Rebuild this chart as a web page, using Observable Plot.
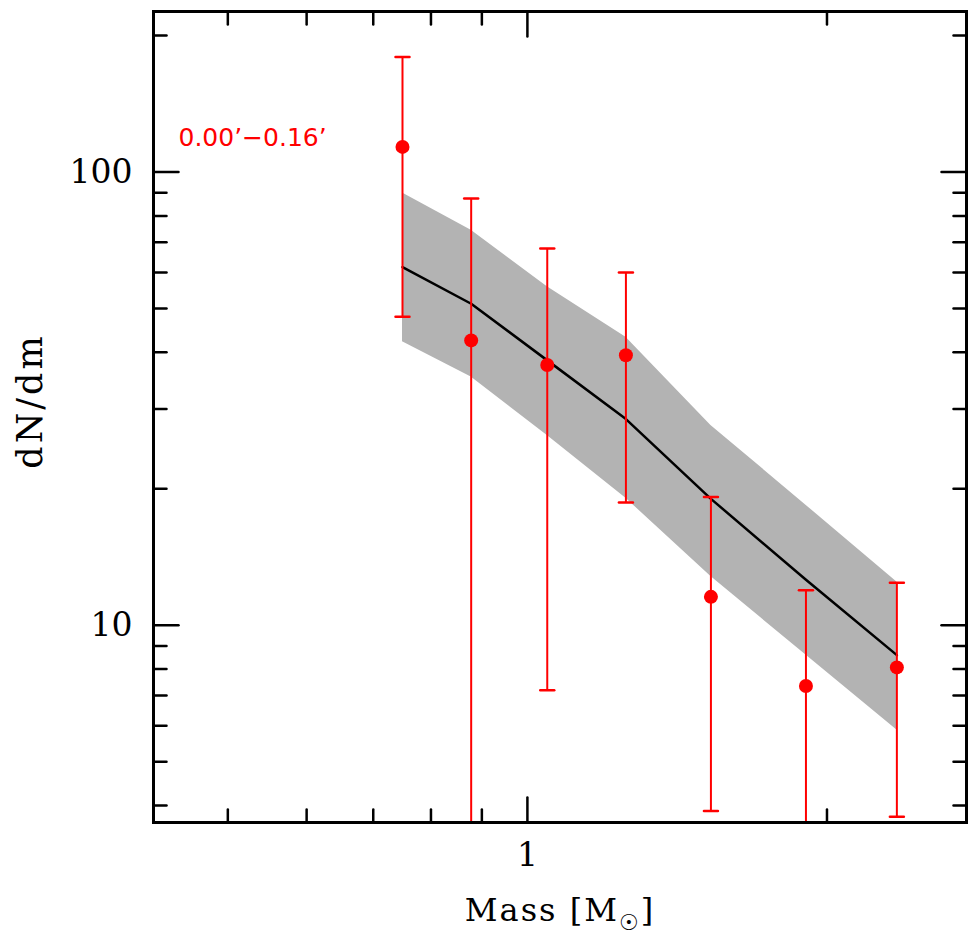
<!DOCTYPE html>
<html>
<head>
<meta charset="utf-8">
<script src="https://cdn.jsdelivr.net/npm/d3@7"></script>
<script src="https://cdn.jsdelivr.net/npm/@observablehq/plot@0.6"></script>
<style>
  body { margin: 0; background: #fff; }
</style>
</head>
<body>
<div id="chart"></div>
<script>
// Observed mass function (red points with error bars)
const mass   = [0.749, 0.878, 1.047, 1.256, 1.529, 1.905, 2.351];
const dndm   = [113.6, 42.5, 37.5, 39.4, 11.55, 7.34, 8.07];
const errHi  = [179.4, 87.4, 67.8, 60.0, 19.19, 11.95, 12.4];
const errLo  = [47.9, 1.0, 7.19, 18.65, 3.89, 1.0, 3.78];

// Model (black line) and its uncertainty band (grey)
const modelMid = [61.7, 51.2, 38.4, 28.5, 19.0, 12.6, 8.59];
const modelHi  = [89.9, 74.4, 55.8, 43.2, 27.6, 18.4, 12.46];
const modelLo  = [42.2, 35.3, 26.2, 19.06, 12.8, 8.59, 5.87];

// Axis ticks
const xMajor = [1];
const xMinor = [0.5, 0.6, 0.7, 0.8, 0.9, 2];
const yMajor = [10, 100];
const yMinor = [4, 5, 6, 7, 8, 9, 20, 30, 40, 50, 60, 70, 80, 90, 200];

const xDomain = [0.421, 2.762];
const yDomain = [3.67, 226];

const regionLabel = "0.00\u2019\u22120.16\u2019";

const obs = mass.map((m, i) => ({m, v: dndm[i], hi: errHi[i], lo: errLo[i]}));
const model = mass.map((m, i) => ({m, mid: modelMid[i], hi: modelHi[i], lo: modelLo[i]}));
const caps = obs.flatMap(d => [{m: d.m, v: d.hi}, {m: d.m, v: d.lo}]);

const line = {draw(ctx, l) { ctx.moveTo(0, 0); ctx.lineTo(0, -l); }};
const tickStyle = {stroke: "black", strokeWidth: 2.5, anchor: "start", shape: line};

const chart = Plot.plot({
  width: 978,
  height: 938,
  marginLeft: 153,
  marginRight: 12,
  marginTop: 11,
  marginBottom: 116,
  x: {type: "log", domain: xDomain, axis: null},
  y: {type: "log", domain: yDomain, axis: null},
  style: {background: "white", fontFamily: "DejaVu Serif", color: "black"},
  marks: [
    Plot.areaY(model, {x: "m", y1: "lo", y2: "hi", fill: "#b3b3b3"}),
    Plot.line(model, {x: "m", y: "mid", stroke: "black", strokeWidth: 2.5}),
    Plot.ruleX(obs, {x: "m", y1: "lo", y2: "hi", stroke: "#ff0000", strokeWidth: 2, clip: true}),
    Plot.vector(caps, {x: "m", y: "v", length: 14, rotate: 90, anchor: "middle", shape: line,
                       stroke: "#ff0000", strokeWidth: 2.5, clip: true}),
    Plot.dot(obs, {x: "m", y: "v", r: 7, fill: "#ff0000", stroke: null}),

    // inward ticks on all four sides
    Plot.vector(yMajor, {y: d => d, frameAnchor: "left", rotate: 90, length: 25, ...tickStyle}),
    Plot.vector(yMinor, {y: d => d, frameAnchor: "left", rotate: 90, length: 13, ...tickStyle}),
    Plot.vector(yMajor, {y: d => d, frameAnchor: "right", rotate: -90, length: 25, ...tickStyle}),
    Plot.vector(yMinor, {y: d => d, frameAnchor: "right", rotate: -90, length: 13, ...tickStyle}),
    Plot.vector(xMajor, {x: d => d, frameAnchor: "bottom", rotate: 0, length: 25, ...tickStyle}),
    Plot.vector(xMinor, {x: d => d, frameAnchor: "bottom", rotate: 0, length: 13, ...tickStyle}),
    Plot.vector(xMajor, {x: d => d, frameAnchor: "top", rotate: 180, length: 25, ...tickStyle}),
    Plot.vector(xMinor, {x: d => d, frameAnchor: "top", rotate: 180, length: 13, ...tickStyle}),

    // tick labels
    Plot.axisY(yMajor, {anchor: "left", tickSize: 0, tickPadding: 21, fontSize: 33,
                        tickFormat: d => String(d), label: null}),
    Plot.axisX(xMajor, {anchor: "bottom", tickSize: 0, tickPadding: 20, fontSize: 33,
                        tickFormat: d => String(d), label: null}),

    // axis titles
    Plot.text(["dN/dm"], {frameAnchor: "left", dx: -123, dy: -16, rotate: -90,
                          fontSize: 35, lineAnchor: "middle", textAnchor: "middle", fill: "black"}),
    Plot.text(["Mass [M"], {frameAnchor: "bottom", dy: 88, fontSize: 32,
                            lineAnchor: "middle", textAnchor: "middle", fill: "black"}),

    // region label
    Plot.text([regionLabel], {frameAnchor: "top-left", dx: 25, dy: 126, fontSize: 25,
                              fontFamily: "DejaVu Sans", textAnchor: "start", lineAnchor: "middle",
                              fill: "#ff0000"}),

    Plot.frame({stroke: "black", strokeWidth: 3})
  ]
});

// add the solar subscript to the x-axis title
d3.select(chart).selectAll("text").each(function () {
  if (this.textContent === "Mass [M") {
    const t = d3.select(this);
    t.attr("letter-spacing", "2px");
    t.append("tspan").attr("dy", 9).attr("font-size", 22).attr("font-family", "DejaVu Sans").text("\u2609");
    t.append("tspan").attr("dy", -9).text("]");
  }
  if (this.textContent === "dN/dm") d3.select(this).attr("letter-spacing", "3px");
});

document.getElementById("chart").appendChild(chart);
</script>
</body>
</html>
